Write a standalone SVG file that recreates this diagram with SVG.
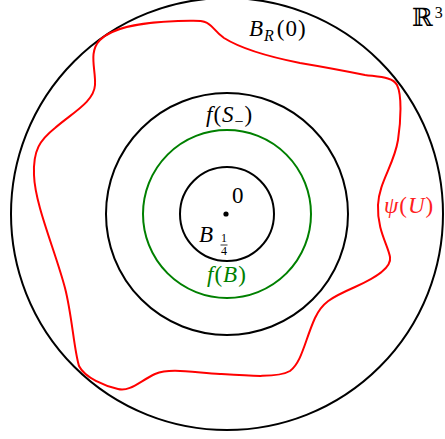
<svg xmlns="http://www.w3.org/2000/svg" width="445" height="439" viewBox="0 0 445 439">
<style>
.c{fill:none;stroke:#000;stroke-width:2}
.g{fill:none;stroke:#008000;stroke-width:2}
.r{fill:none;stroke:#ff0000;stroke-width:2;stroke-linejoin:round}
.t{font-family:"Liberation Serif","DejaVu Serif",serif;font-size:23px;letter-spacing:1px;fill:#000}
.i{font-style:italic}
.s{font-size:12px;letter-spacing:0;fill:#000}
.bb{font-family:"DejaVu Serif","DejaVu Sans",serif;font-size:25px;fill:#000}
</style>
<rect width="445" height="439" fill="#fff"/>
<g id="outer-ball">
<circle class="c" cx="227" cy="214" r="216"/>
<text class="t" x="249" y="36"><tspan class="i">B</tspan><tspan class="i" font-size="16" dy="5">R</tspan><tspan dy="-5" dx="2">(0)</tspan></text>
</g>
<g id="space-label">
<text class="bb" x="412" y="26">ℝ<tspan font-family="Liberation Serif" font-size="16" dx="2" dy="-8">3</tspan></text>
</g>
<g id="f-S-minus">
<circle class="c" cx="227" cy="214" r="121"/>
<text class="t" x="206" y="122"><tspan class="i">f</tspan>(<tspan class="i">S</tspan><tspan font-size="16" dy="5">−</tspan><tspan dy="-5">)</tspan></text>
</g>
<g id="f-B">
<circle class="g" cx="227" cy="214" r="84"/>
<text class="t" x="207" y="282" style="fill:#008000"><tspan class="i">f</tspan>(<tspan class="i">B</tspan>)</text>
</g>
<g id="inner-ball">
<circle class="c" cx="227" cy="214" r="47"/>
<circle cx="226" cy="214" r="2.6" fill="#000"/>
<text class="t" x="232" y="203">0</text>
<text class="t i" x="199" y="242">B</text>
<text class="t s" x="221" y="242">1</text>
<line x1="220.5" y1="245" x2="227.5" y2="245" stroke="#000" stroke-width="0.8"/>
<text class="t s" x="221" y="255">4</text>
</g>
<g id="psi-U">
<path class="r" d="M205,22 C212,24 214,31 224,38 C240,48 265,56 300,63 C330,68 350,72 365,75 C380,77 393,77 397,85 C402,95 401,120 398,140 C394,165 379,182 378,205 C377,230 388,245 390,257 C392,268 375,278 355,287 C330,298 322,303 315,318 C305,340 302,362 290,371 C278,378 250,376 220,374 C190,372 170,368 155,374 C140,381 130,392 118,389 C105,386 85,378 79,366 C74,350 72,315 65,288 C55,250 35,205 34,175 C33,150 40,140 55,128 C72,113 94,102 95,85 C96,70 88,52 100,40 C115,25 150,22 178,21 C195,21 200,20 205,22 Z"/>
<text class="t i" x="384" y="213" style="fill:#ff2020">ψ<tspan font-style="normal">(</tspan>U<tspan font-style="normal">)</tspan></text>
</g>
</svg>
